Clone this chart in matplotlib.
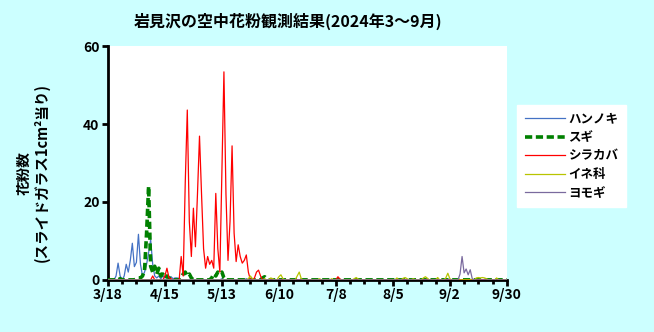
import numpy as np
import matplotlib
matplotlib.use("Agg")
import matplotlib.pyplot as plt
import matplotlib.dates as mdates
import pandas as pd

plt.rcParams['font.family'] = ['Noto Sans CJK JP', 'DejaVu Sans']

# ---- data (day offset from 3/18 : pollen count) ----
start_date = "2024-03-18"
end_date = "2024-09-30"

hannoki_days = [4, 5, 6, 7, 8, 9, 10, 11, 12, 13, 14, 15, 16, 17, 18, 19, 20, 21, 22, 23, 24, 25, 26, 27, 28, 29, 30, 31, 32, 33, 34, 35, 56, 68]
hannoki_vals = [1, 4.3, 1, 0, 1, 4, 2, 5, 9.4, 3.4, 4.5, 11.7, 4, 1, 2, 4, 7, 10.3, 4, 1, 0.5, 1, 0.3, 1, 0.5, 1, 0.3, 0.8, 0.3, 0.5, 0.5, 0.3, 0.3, 0.3]

sugi_days = [6, 9, 14, 15, 16, 17, 18, 19, 20, 21, 22, 23, 24, 25, 26, 27, 28, 29, 30, 31,
             36, 37, 38, 39, 40, 41, 51, 52, 53, 54, 55, 56, 57, 76, 77, 78]
sugi_vals = [0.3, 0.3, 0.3, 0.5, 0.5, 1, 2.5, 12, 24, 3.5, 2, 3.5, 1.5, 3, 1, 1.5, 0.5, 1, 0.5, 0.3,
             0.5, 1.5, 2, 1, 1.5, 0.5, 0.5, 1.5, 1, 2, 1.5, 2, 0.5, 0.5, 0.8, 0.3]

shirakaba_days = [22, 28, 29, 30, 31, 36, 37, 38, 39, 40, 41, 42, 43, 44, 45, 46, 47, 48, 49, 50, 51, 52, 53, 54, 55,
                  56, 57, 58, 59, 60, 61, 62, 63, 64, 65, 66, 67, 68, 69, 72, 73, 74, 75, 113, 114]
shirakaba_vals = [1, 1, 3, 0.5, 0.3, 6, 1, 25, 43.6, 15, 6, 18.4, 8.5, 22, 36.9, 22, 8, 3, 6, 4, 5, 3, 22.2, 8, 2,
                  28, 53.4, 22, 5, 15, 34.4, 12, 4.7, 9, 6, 4.3, 5, 6.4, 2, 0.5, 2, 2.5, 1, 0.8, 0.2]

ine_days = [69, 70, 71, 77, 80, 81, 84, 85, 86, 93, 94, 95, 104, 110, 121, 122, 123, 142, 145, 146, 147, 150,
            155, 156, 157, 162, 166, 167, 168, 181, 182, 183, 184, 185, 186, 191]
ine_vals = [0.3, 1, 0.3, 0.3, 0.5, 0.3, 0.8, 1.3, 0.3, 1, 2, 0.3, 0.3, 0.3, 0.3, 0.6, 0.2, 0.5, 0.4, 0.6, 0.3, 0.3,
            0.5, 0.8, 0.4, 0.6, 0.5, 1.7, 0.3, 0.5, 0.6, 0.5, 0.6, 0.5, 0.3, 0.5]

yomogi_days = [173, 174, 175, 176, 177, 178, 179]
yomogi_vals = [1.5, 6, 1.8, 2.8, 1.3, 2.6, 0.3]

tick_labels = ["3/18", "4/15", "5/13", "6/10", "7/8", "8/5", "9/2", "9/30"]
series_names = ["ハンノキ", "スギ", "シラカバ", "イネ科", "ヨモギ"]

# ---- build daily series ----
dates = pd.date_range(start_date, end_date, freq="D")
n = len(dates)


def daily(days, vals):
    arr = np.zeros(n)
    arr[np.array(days)] = vals
    return arr


series = [daily(hannoki_days, hannoki_vals), daily(sugi_days, sugi_vals),
          daily(shirakaba_days, shirakaba_vals), daily(ine_days, ine_vals),
          daily(yomogi_days, yomogi_vals)]
styles = [dict(color="#4472C4", lw=0.9, ls="-"),
          dict(color="#008000", lw=2.6, ls=(0, (2.0, 1.0))),
          dict(color="#FF0000", lw=0.9, ls="-"),
          dict(color="#B8C400", lw=0.9, ls="-"),
          dict(color="#7A6A9E", lw=0.9, ls="-")]

bg = "#CCFFFF"
fig = plt.figure(figsize=(6.54, 3.32), dpi=100, facecolor=bg)
ax = fig.add_axes([0.165, 0.157, 0.61, 0.704])
ax.set_facecolor("white")

handles = []
for s, st, name in zip(series, styles, series_names):
    h, = ax.plot(dates, s, label=name, zorder=2, **st)
    handles.append(h)

ax.set_ylim(0, 60)
ax.set_xlim(dates[0], dates[-1])
ax.set_yticks([0, 20, 40, 60])

major = pd.date_range(start_date, end_date, freq="28D")
minor = pd.date_range(start_date, end_date, freq="7D")
ax.set_xticks(major)
ax.set_xticklabels(tick_labels)
ax.set_xticks(minor, minor=True)

for sp in ["top", "right"]:
    ax.spines[sp].set_visible(False)
for sp in ["left", "bottom"]:
    ax.spines[sp].set_linewidth(2)
    ax.spines[sp].set_zorder(1)

ax.tick_params(axis="both", which="major", direction="out", length=4, width=2,
               labelsize=10, pad=2)
ax.tick_params(axis="x", which="minor", direction="out", length=3, width=2)
for lab in ax.get_xticklabels() + ax.get_yticklabels():
    lab.set_fontweight("bold")

fig.text(0.44, 0.935, "岩見沢の空中花粉観測結果(2024年3～9月)", ha="center", va="center",
         fontsize=11.5, fontweight="bold")
fig.text(0.05, 0.48, "花粉数\n(スライドガラス1cm²当り)", rotation=90, ha="center", va="center",
         fontsize=10.5, fontweight="bold", multialignment="center", linespacing=1.1)

leg = fig.legend(handles=handles, loc="center", bbox_to_anchor=(0.874, 0.53),
                 frameon=True, fancybox=False, edgecolor="white", facecolor="white",
                 prop=dict(weight="bold", size=9), handlelength=3.2, handletextpad=0.3,
                 labelspacing=0.45, borderpad=0.6, framealpha=1)

fig.savefig("out.png", dpi=100, facecolor=bg)
